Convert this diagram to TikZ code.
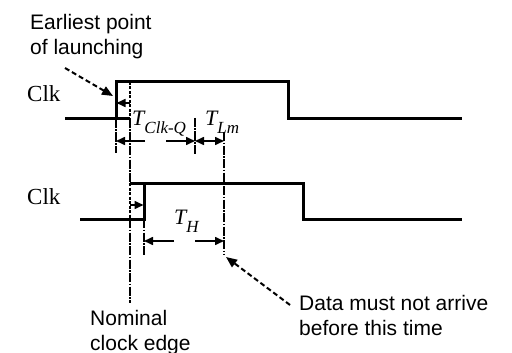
\documentclass[tikz,border=0pt]{standalone}
\usepackage{fontspec}
\setmainfont{Liberation Serif}
\newfontfamily\sansf{Liberation Sans}
\usetikzlibrary{arrows.meta}
\begin{document}
\begin{tikzpicture}[x=1pt,y=-1pt,
  wave/.style={line width=3pt, line join=miter},
  extline/.style={line width=1.8pt, dash pattern=on 9pt off 1.5pt on 1.5pt off 1.5pt},
  edgedash/.style={line width=2.6pt, dash pattern=on 3pt off 1.5pt},
  dimarrow/.style={line width=1.6pt, -{Triangle[length=9pt,width=8pt]}},
  dimboth/.style={line width=1.6pt, {Triangle[length=9pt,width=8pt]}-{Triangle[length=9pt,width=8pt]}},
  leader/.style={line width=2pt, dash pattern=on 5pt off 3pt, -{Triangle[length=11pt,width=9pt]}},
  lbl/.style={font=\sansf\fontsize{21}{25}\selectfont, align=left, inner sep=0pt},
  clk/.style={font=\fontsize{23}{23}\selectfont, inner sep=0pt},
  tlab/.style={inner sep=0pt}
]
\useasboundingbox (0,0) rectangle (512,353);
\newcommand{\tsym}[1]{{\fontsize{22}{22}\selectfont\itshape T}\raisebox{-8pt}{\fontsize{17}{17}\selectfont\itshape #1}}

% labels (base anchor = baseline of the last line)
\node[lbl, anchor=base west] (early) at (30,55) {Earliest point\\of launching};
\node[lbl, anchor=base west] (data) at (299,335) {Data must not arrive\\before this time};
\node[lbl, anchor=base west] (nominal) at (90,350) {Nominal\\clock edge};
\node[clk, anchor=base west] (clk1) at (27,102) {Clk};
\node[clk, anchor=base west] (clk2) at (27,204) {Clk};
\node[tlab, anchor=base west] (tclkq) at (132,125) {\tsym{Clk-Q}};
\node[tlab, anchor=base west] (tlm) at (205,125) {\tsym{Lm}};
\node[tlab, anchor=base west] (th) at (174,224) {\tsym{H}};

% key coordinates
\coordinate (nomtop) at (130,82);
\coordinate (nomlow) at (130,119);
\coordinate (nombot) at (130,303);
\coordinate (nomhi2) at (130,183);
\coordinate (nomlo2) at (130,219);
\coordinate (e1a) at (116,119);
\coordinate (e1b) at (116,153);
\coordinate (e2a) at (195,118);
\coordinate (e2b) at (195,154);
\coordinate (e3a) at (224,132);
\coordinate (e3b) at (224,255);
\coordinate (e4a) at (144,219);
\coordinate (e4b) at (144,255);

% waveforms
\draw[wave] (65,119) -- (130,119);
\draw[wave] (116,119) -- (116,82) -- (288,82) -- (288,119) -- (462,119);
\draw[wave] (80,219) -- (144,219) -- (144,183) -- (303,183) -- (303,219) -- (462,219);
\draw[wave] (130,183) -- (144,183);

% nominal edge line
\draw[edgedash] (nomtop) -- (nomlow);
\draw[extline] (nomlow) -- (nomhi2);
\draw[edgedash] (nomhi2) -- (nomlo2);
\draw[extline] (nomlo2) -- (nombot);

% extension lines
\draw[extline] (e1a) -- (e1b);
\draw[extline] (e2a) -- (e2b);
\draw[extline] (e3a) -- (e3b);
\draw[extline] (e4a) -- (e4b);

% small edge arrows
\coordinate (sa1) at (130,103);
\coordinate (sa1t) at (116.5,103);
\coordinate (sa2) at (130,205);
\coordinate (sa2t) at (143.5,205);
\draw[dimarrow] (sa1) -- (sa1t);
\draw[dimarrow] (sa2) -- (sa2t);

% dimension arrows
\draw[dimarrow] (145,141) -- (e1a |- 0,141);
\draw[dimarrow] (166,141) -- (e2a |- 0,141);
\draw[dimboth] (e2a |- 0,141) -- (e3a |- 0,141);
\draw[dimarrow] (174,241) -- (e4a |- 0,241);
\draw[dimarrow] (195,241) -- (e3a |- 0,241);

% leaders
\coordinate (l1s) at (65,68);
\coordinate (l1e) at (113,96);
\coordinate (l2s) at (290,305);
\coordinate (l2e) at (226,257);
\draw[leader] (l1s) -- (l1e);
\draw[leader] (l2s) -- (l2e);
\end{tikzpicture}
\end{document}
